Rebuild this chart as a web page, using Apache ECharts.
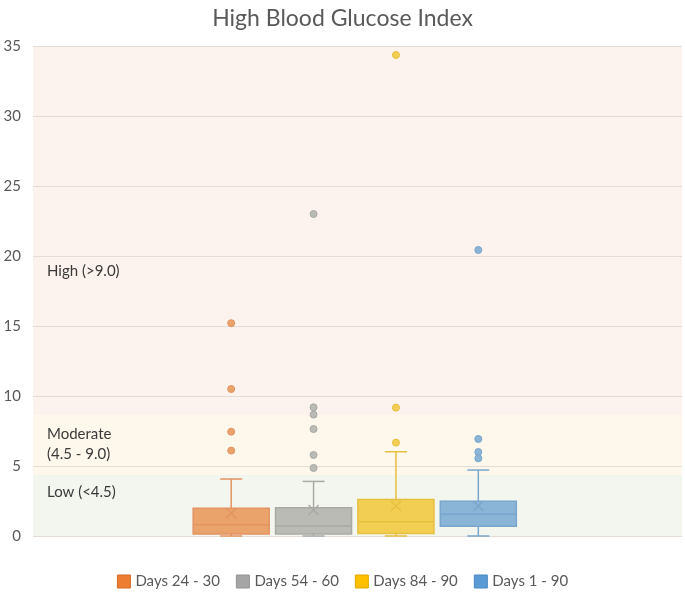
<!DOCTYPE html>
<html><head><meta charset="utf-8">
<script src="https://cdn.jsdelivr.net/npm/echarts@6/dist/echarts.min.js"></script>
<style>html,body{margin:0;padding:0;background:#fff}#c{width:685px;height:592px}</style>
</head><body><div id="c"></div>
<script>
// ---- data ----
const categories = ['Days 24 - 30', 'Days 54 - 60', 'Days 84 - 90', 'Days 1 - 90'];
const mins    = [0, 0, 0, 0];
const q1s     = [0.15, 0.15, 0.18, 0.7];
const medians = [0.8, 0.72, 1.02, 1.55];
const q3s     = [1.98, 2.02, 2.6, 2.48];
const maxs    = [4.07, 3.9, 6.02, 4.71];
const means   = [1.62, 1.86, 2.14, 2.14];
const outliers = [
  [15.2, 10.5, 7.45, 6.1],
  [23.0, 9.19, 8.67, 7.64, 5.79, 4.86],
  [34.36, 9.17, 6.67],
  [20.43, 6.93, 6.0, 5.55]
];
const yMin = 0, yMax = 35, yStep = 5;
const zoneNames  = ['High (>9.0)', 'Moderate\n(4.5 - 9.0)', 'Low (<4.5)'];
const zoneBounds = [[8.65, 35], [4.35, 8.65], [0, 4.35]];

// ---- styles ----
const FONT = 'Lato, "Open Sans", sans-serif';
const zoneColors  = ['#fdf3ee', '#fef8ec', '#f3f6ee'];
const lineColors  = ['#e39462', '#a9aaa6', '#e6bf3f', '#79a6cd'];
const fillColors  = ['#eaa36b', '#b9bbb4', '#f2cf52', '#8bb5d6'];
const legendFill  = ['#ed7d31', '#a5a5a5', '#ffc000', '#5b9bd5'];
const legendBorder= ['#d46b24', '#939393', '#e0a800', '#4a89c2'];

function makeRender(k) {
  return function (params, api) {
    const i = api.value(0);
    const cx = api.coord([i, 0])[0];
    const bw = api.size([1, 0])[0] * 0.923;
    const Y = d => api.coord([i, api.value(d)])[1];
    const yLo = Y(1), yQ1 = Y(2), yMed = Y(3), yQ3 = Y(4), yHi = Y(5), yMean = Y(6);
    const cap = bw * 0.29;
    const ls = { stroke: lineColors[k], lineWidth: 1.5 };
    const m = 5;
    return {
      type: 'group',
      children: [
        { type: 'line', shape: { x1: cx, y1: yHi, x2: cx, y2: yQ3 }, style: ls },
        { type: 'line', shape: { x1: cx, y1: yQ1, x2: cx, y2: yLo }, style: ls },
        { type: 'line', shape: { x1: cx - cap / 2, y1: yHi, x2: cx + cap / 2, y2: yHi }, style: ls },
        { type: 'line', shape: { x1: cx - cap / 2, y1: yLo, x2: cx + cap / 2, y2: yLo }, style: ls },
        { type: 'rect', shape: { x: cx - bw / 2, y: yQ3, width: bw, height: yQ1 - yQ3 },
          style: { fill: fillColors[k], stroke: lineColors[k], lineWidth: 1.5 } },
        { type: 'line', shape: { x1: cx - bw / 2, y1: yMed, x2: cx + bw / 2, y2: yMed }, style: ls },
        { type: 'line', shape: { x1: cx - m, y1: yMean - m, x2: cx + m, y2: yMean + m }, style: ls },
        { type: 'line', shape: { x1: cx - m, y1: yMean + m, x2: cx + m, y2: yMean - m }, style: ls }
      ]
    };
  };
}

const series = [];
// background zones in grid 0
series.push({
  type: 'line', xAxisIndex: 0, yAxisIndex: 0, data: [], silent: true, z: 1,
  markArea: {
    silent: true, z: 1,
    data: zoneBounds.map((b, j) => [
      { yAxis: b[0], itemStyle: { color: zoneColors[j] } },
      { yAxis: b[1] }
    ])
  }
});
categories.forEach((name, k) => {
  series.push({
    type: 'custom', name: name, xAxisIndex: 1, yAxisIndex: 1, z: 3,
    itemStyle: { color: legendFill[k] },
    encode: { x: 0, y: [1, 2, 3, 4, 5, 6] },
    renderItem: makeRender(k),
    data: [[k, mins[k], q1s[k], medians[k], q3s[k], maxs[k], means[k]]]
  });
  series.push({
    type: 'scatter', name: name, xAxisIndex: 1, yAxisIndex: 1, z: 4,
    symbolSize: 7,
    itemStyle: { color: fillColors[k], borderColor: lineColors[k], borderWidth: 1, opacity: 1 },
    data: outliers[k].map(v => [k, v])
  });
});

const chart = echarts.init(document.getElementById('c'), null, { renderer: 'canvas' });
chart.setOption({
  animation: false,
  backgroundColor: '#ffffff',
  title: {
    text: 'High Blood Glucose Index', left: 'center', top: 2,
    textStyle: { fontFamily: FONT, fontSize: 23, fontWeight: 'normal', color: '#595959' }
  },
  legend: {
    top: 569, left: 'center', itemWidth: 13, itemHeight: 13, itemGap: 16,
    textStyle: { fontFamily: FONT, fontSize: 15, color: '#595959' },
    data: categories.map((n, k) => ({
      name: n, icon: 'rect',
      itemStyle: { color: legendFill[k], borderColor: legendBorder[k], borderWidth: 1 }
    }))
  },
  grid: [
    { left: 33, right: 3, top: 46, bottom: 56, containLabel: false },
    { left: 190, right: 165.5, top: 46, bottom: 56, containLabel: false }
  ],
  xAxis: [
    { type: 'value', gridIndex: 0, min: 0, max: 1, show: false },
    { type: 'category', gridIndex: 1, data: categories, show: false, boundaryGap: true }
  ],
  yAxis: [
    {
      type: 'value', gridIndex: 0, min: yMin, max: yMax, interval: yStep, z: 1.5,
      axisLine: { show: false }, axisTick: { show: false },
      axisLabel: { fontFamily: FONT, fontSize: 15, color: '#595959', margin: 12 },
      splitLine: { show: true, lineStyle: { color: '#e4dcd7', width: 1.2 } }
    },
    { type: 'value', gridIndex: 1, min: yMin, max: yMax, interval: yStep, show: false, splitLine: { show: false } }
  ],
  graphic: {
    elements: [
      { type: 'text', left: 47, top: 264, z: 20, silent: true,
        style: { text: zoneNames[0], fontFamily: FONT, fontSize: 15, fill: '#3a3a3a' } },
      { type: 'text', left: 47, top: 424, z: 20, silent: true,
        style: { text: zoneNames[1], fontFamily: FONT, fontSize: 15, fill: '#3a3a3a', lineHeight: 20 } },
      { type: 'text', left: 47, top: 485, z: 20, silent: true,
        style: { text: zoneNames[2], fontFamily: FONT, fontSize: 15, fill: '#3a3a3a' } }
    ]
  },
  series: series
});
</script></body></html>
